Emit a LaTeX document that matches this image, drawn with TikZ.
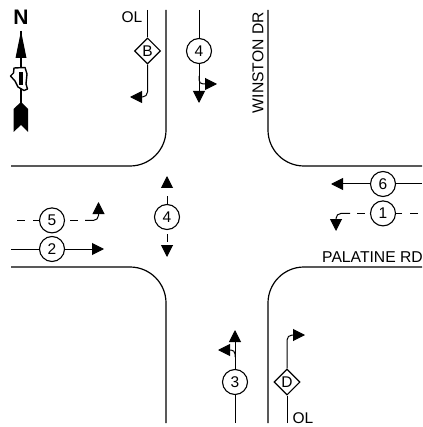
\documentclass[tikz,border=0pt]{standalone}
\usepackage{fontspec}
\setmainfont{Liberation Sans}
\usetikzlibrary{arrows.meta,positioning,shapes.geometric,calc}

\begin{document}
\begin{tikzpicture}[
  x=1pt, y=-1pt,
  curb/.style={line width=1.2pt},
  phase/.style={draw, circle, line width=1.1pt, minimum size=25pt, inner sep=0pt, font=\fontsize{15.5}{16}\selectfont},
  overlap/.style={draw, diamond, line width=1.1pt, minimum size=26pt, inner sep=0pt, font=\fontsize{15.5}{16}\selectfont},
  road/.style={font=\fontsize{15.7}{16}\selectfont, inner sep=0pt},
  arrow/.style={-{Triangle[length=12pt,width=12pt]}, line width=1pt},
  turn/.style={arrow, rounded corners=5pt},
  stub/.style={line width=1pt},
  gap/.style={dash pattern=on 8pt off 8pt}
]
  \useasboundingbox (0,0) rectangle (422,427);

  % Curbs
  \draw[curb] (166,10) -- (166,130) arc[start angle=0, end angle=90, radius=36] -- (11,166);
  \draw[curb] (268,10) -- (268,130) arc[start angle=180, end angle=90, radius=36] -- (422,166);
  \draw[curb] (11,267) -- (130,267) arc[start angle=-90, end angle=0, radius=36] -- (166,423);
  \draw[curb] (422,267) -- (304,267) arc[start angle=-90, end angle=-180, radius=36] -- (268,423);

  % Road names
  \node[road, rotate=90, anchor=east] (winston) at (258,12) {WINSTON DR};
  \node[road, anchor=west] (palatine) at (322,257) {PALATINE RD};

  % North arrow
  \node[font=\fontsize{21}{21}\selectfont\bfseries, inner sep=0pt] (north) at (21,17.5) {N};
  \coordinate (ntip) at (21,31);
  \coordinate (ntail) at (21,104);
  \draw[line width=1.2pt] (ntip) -- (ntail);
  \fill (ntip) -- (26.5,58) -- (15.5,58) -- cycle;
  \fill (21,102) -- (28,109) -- (28,132) -- (21,125) -- (13.5,132) -- (13.5,109) -- cycle;
  \draw[line width=1.4pt, fill=white, line join=round] (14,68) -- (25,67.5) -- (27,74) -- (26,84) -- (27.5,89) -- (24,90.5) -- (18,87) -- (15,81) -- (10.5,76) -- (13.5,73) -- cycle;
  \fill (18.5,72) rectangle (23,85);

  % Top approach
  \node[overlap] (B) at (147.5,51) {B};
  \node[font=\fontsize{15.5}{16}\selectfont, inner sep=0pt] (olb) at (132,17) {OL};
  \coordinate (bin) at (147.5,10);
  \coordinate (bturn) at (147.5,97);
  \coordinate (bend) at (130,97);
  \draw[stub] (bin) -- (B);
  \draw[turn] (B) -- (bturn) -- (bend);

  \node[phase] (p4s) at (199,51) {4};
  \coordinate (sin) at (199,10);
  \coordinate (send) at (199,103);
  \coordinate (sturn) at (199,84);
  \coordinate (sright) at (217,84);
  \draw[stub] (sin) -- (p4s);
  \draw[arrow] (p4s) -- (send);
  \draw[turn, rounded corners=4pt] (p4s.south |- 0,76) -- (sturn) -- (sright);

  % Pedestrian phase
  \node[phase] (p4p) at (167,217) {4};
  \coordinate (pup) at (167,176);
  \coordinate (pdashtop) at (167,234);
  \coordinate (pdown) at (167,257);
  \draw[arrow, dash pattern=on 8pt off 9pt] (p4p) -- (pup);
  \draw[arrow, dash pattern=on 8pt off 4pt] (pdashtop) -- (pdown);

  % West approach
  \node[phase] (p5) at (52,220.4) {5};
  \node[phase] (p2) at (52,249) {2};
  \coordinate (w5in) at (17,220.4);
  \coordinate (w5hook) at (85,220.4);
  \coordinate (w5turn) at (98.5,220.4);
  \coordinate (w5end) at (98.5,202);
  \coordinate (w2in) at (11,249);
  \coordinate (w2end) at (104,249);
  \draw[stub, gap] (w5in) -- (p5);
  \draw[stub, gap, dash phase=11pt] (p5) -- (w5hook);
  \draw[turn] (w5hook) -- (w5turn) -- (w5end);
  \draw[stub] (w2in) -- (p2);
  \draw[arrow] (p2) -- (w2end);

  % East approach
  \node[phase] (p6) at (383,184) {6};
  \node[phase] (p1) at (383,213.4) {1};
  \coordinate (e6in) at (422,184);
  \coordinate (e6end) at (331,184);
  \coordinate (e1in) at (422,213.4);
  \coordinate (e1hook) at (350,213.4);
  \coordinate (e1turn) at (336,213.4);
  \coordinate (e1end) at (336,231);
  \draw[stub] (e6in) -- (p6);
  \draw[arrow] (p6) -- (e6end);
  \draw[stub, gap, dash phase=12pt] (e1in) -- (p1);
  \draw[stub, gap, dash phase=11pt] (p1) -- (e1hook);
  \draw[turn] (e1hook) -- (e1turn) -- (e1end);

  % Bottom approach
  \node[phase] (p3) at (235,382) {3};
  \coordinate (nin) at (235,423);
  \coordinate (nend) at (235,330);
  \coordinate (nturn) at (235,350);
  \coordinate (nleft) at (218,350);
  \draw[stub] (nin) -- (p3);
  \draw[arrow] (p3) -- (nend);
  \draw[turn, rounded corners=4pt] ($(nturn)+(0,7)$) -- (nturn) -- (nleft);

  \node[overlap] (D) at (287,382) {D};
  \node[font=\fontsize{15.5}{16}\selectfont, inner sep=0pt] (old) at (303,418) {OL};
  \coordinate (din) at (287,423);
  \coordinate (dturn) at (287,335);
  \coordinate (dend) at (305,335);
  \draw[stub] (din) -- (D);
  \draw[turn] (D) -- (dturn) -- (dend);
\end{tikzpicture}
\end{document}
